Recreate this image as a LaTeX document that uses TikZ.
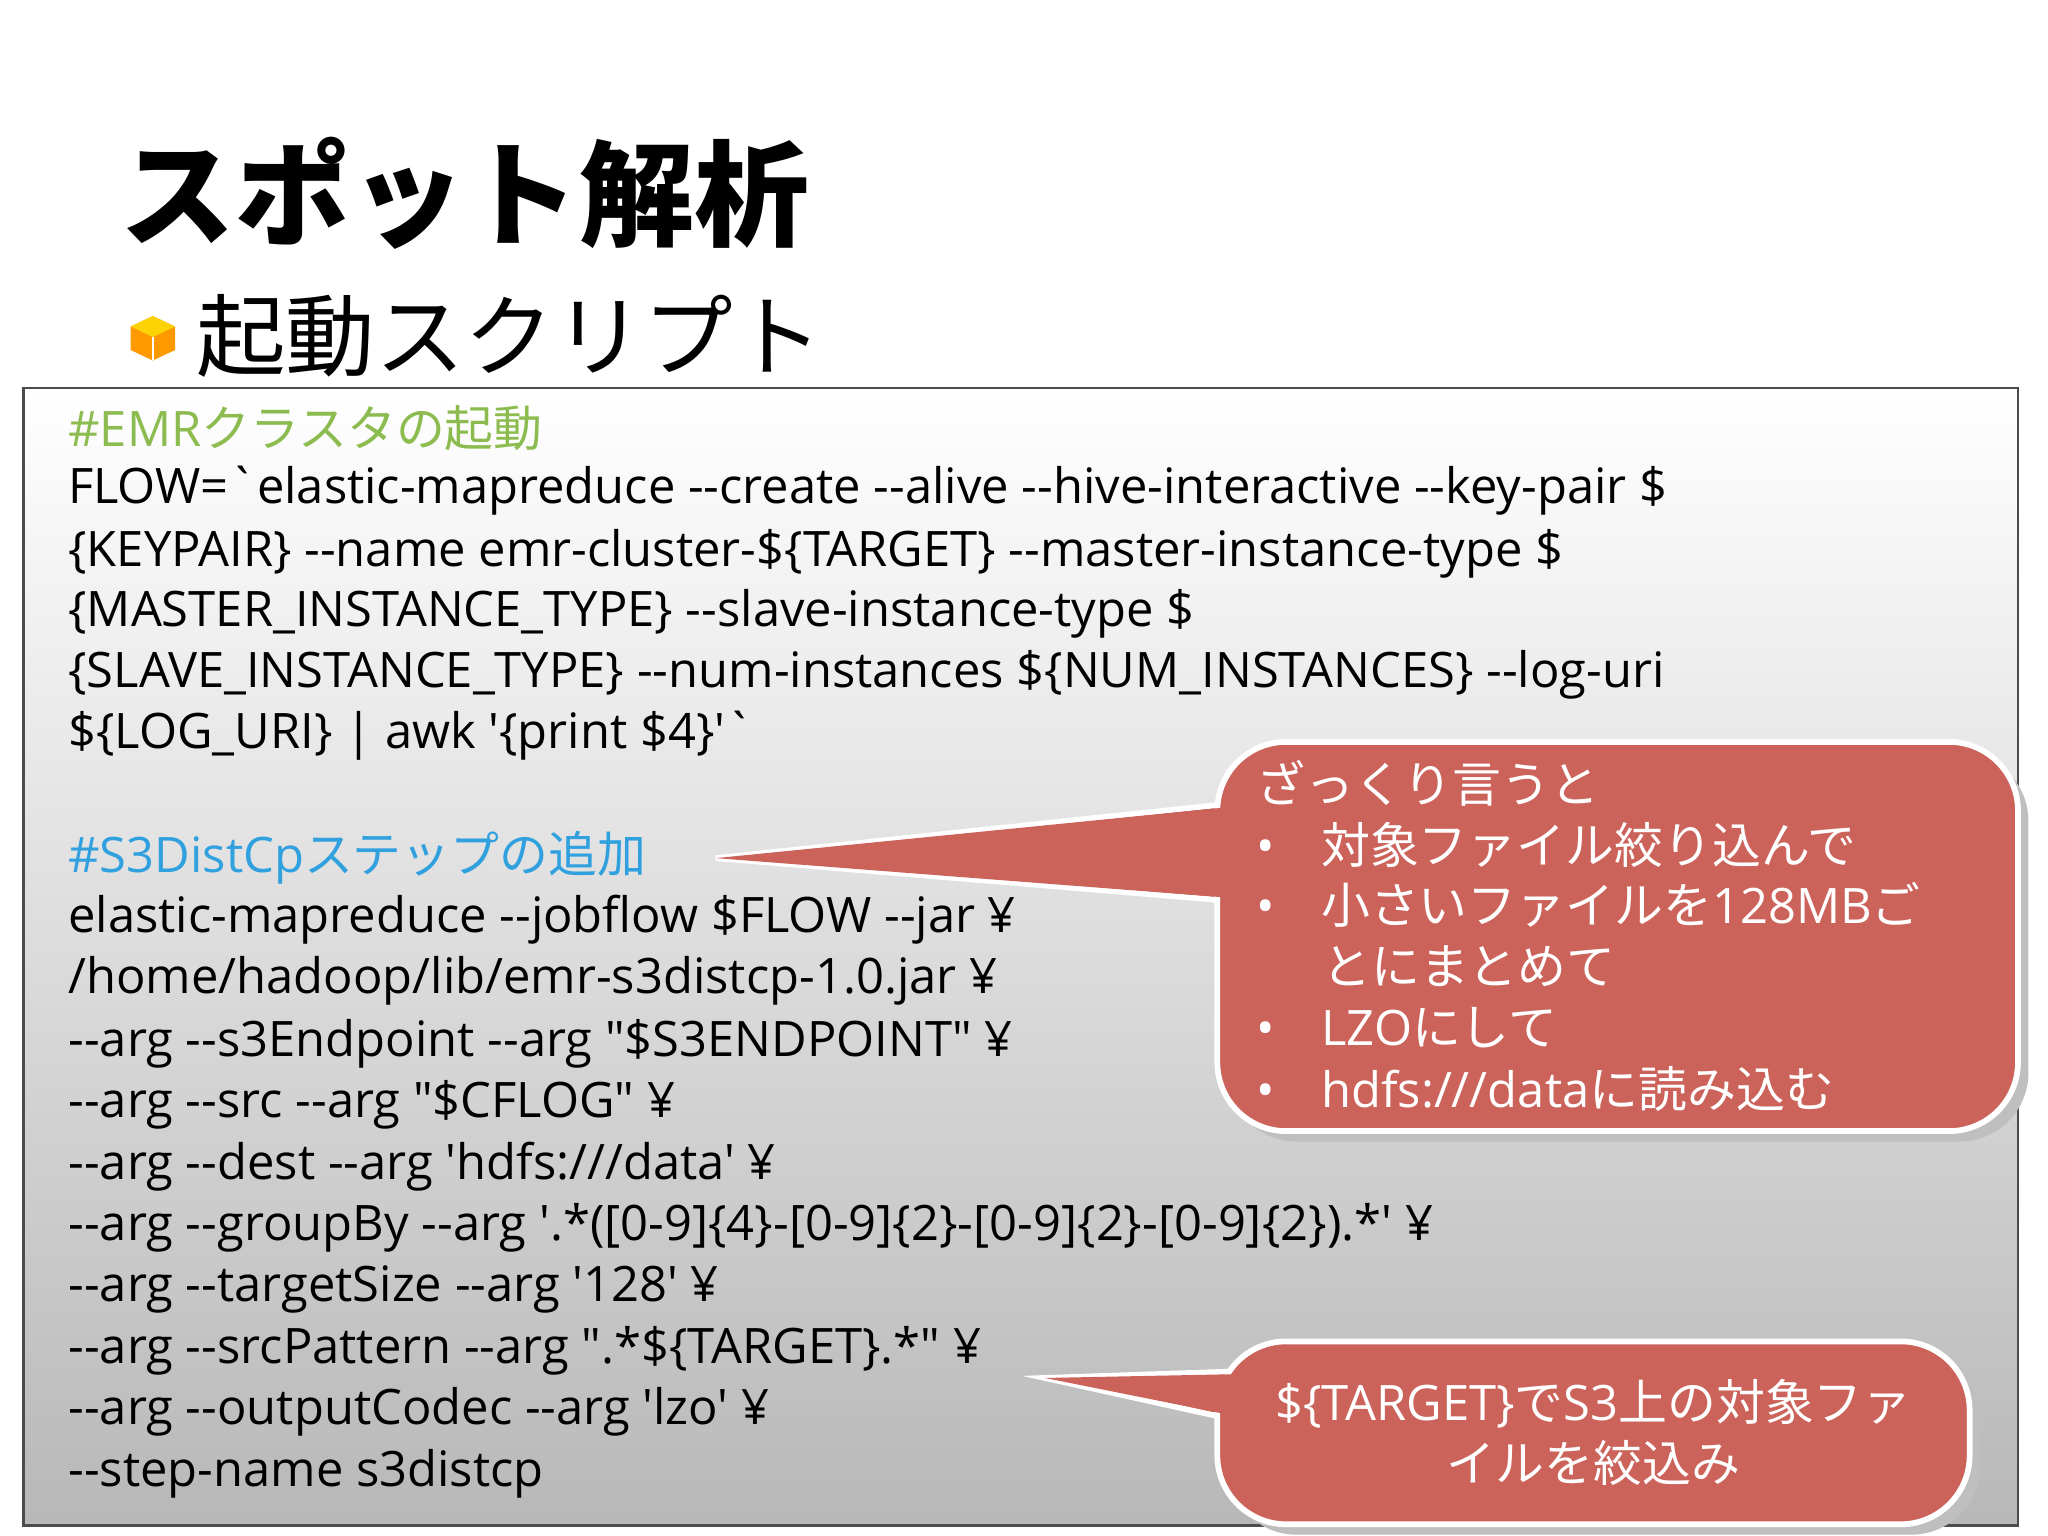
\documentclass[tikz,border=0pt]{standalone}
\usepackage{fontspec}
\newfontfamily\jp{Noto Sans CJK JP}
\newfontfamily\lat{Open Sans}
\definecolor{callred}{RGB}{204,99,91}
\definecolor{cgreen}{RGB}{140,188,80}
\definecolor{cblue}{RGB}{48,160,222}
\tikzset{code/.style={anchor=west,inner sep=0pt,font=\lat\fontsize{21.3}{25}\selectfont},
 ctext/.style={anchor=west,inner sep=0pt,text=white,font=\lat\fontsize{21.3}{25}\selectfont},
 callout/.style={fill=callred,draw=white,line width=2.5pt,rounded corners=30}}
\begin{document}
\begin{tikzpicture}[x=0.02cm,y=-0.02cm]
\useasboundingbox (0,0) rectangle (1568,1176);
\fill[white] (0,0) rectangle (1568,1176);
\node[anchor=west,inner sep=0pt,font=\jp\bfseries\fontsize{50}{54}\selectfont] (title) at (92,148) {スポット解析};
\fill[orange!80!yellow] (100,250) -- (117,242) -- (134,250) -- (134,268) -- (117,276) -- (100,268) -- cycle;
\fill[yellow!70!orange] (100,250) -- (117,242) -- (134,250) -- (117,258) -- cycle;
\draw[white,line width=1pt] (117,258) -- (117,276);
\node[anchor=west,inner sep=0pt,font=\jp\fontsize{39}{42}\selectfont] (sub) at (150,257) {起動スクリプト};
\shade[top color=white,bottom color=black!28,draw=black!70,line width=1pt] (18,297) rectangle (1545,1168);
\node[code,text=cgreen] (l0) at (52,328) {\#EMR{\jp クラスタの起動}};
\node[code] (l1) at (52,376) {FLOW=`elastic-mapreduce --create --alive --hive-interactive --key-pair \$};
\node[code] (l2) at (52,424) {\{KEYPAIR\} --name emr-cluster-\$\{TARGET\} --master-instance-type \$};
\node[code] (l3) at (52,470) {\{MASTER\_INSTANCE\_TYPE\} --slave-instance-type \$};
\node[code] (l4) at (52,517) {\{SLAVE\_INSTANCE\_TYPE\} --num-instances \$\{NUM\_INSTANCES\} --log-uri};
\node[code] (l5) at (52,563) {\$\{LOG\_URI\} | awk '\{print \$4\}'`};
\node[code,text=cblue] (c2) at (52,657) {\#S3DistCp{\jp ステップの追加}};
\node[code] (m1) at (52,704) {elastic-mapreduce --jobflow \$FLOW --jar ¥};
\node[code] (m2) at (52,751) {/home/hadoop/lib/emr-s3distcp-1.0.jar ¥};
\node[code] (m3) at (52,799) {--arg --s3Endpoint --arg "\$S3ENDPOINT" ¥};
\node[code] (m4) at (52,846) {--arg --src --arg "\$CFLOG" ¥};
\node[code] (m5) at (52,893) {--arg --dest --arg 'hdfs:///data' ¥};
\node[code] (m6) at (52,940) {--arg --groupBy --arg '.*([0-9]\{4\}-[0-9]\{2\}-[0-9]\{2\}-[0-9]\{2\}).*' ¥};
\node[code] (m7) at (52,987) {--arg --targetSize --arg '128' ¥};
\node[code] (m8) at (52,1034) {--arg --srcPattern --arg ".*\$\{TARGET\}.*" ¥};
\node[code] (m9) at (52,1081) {--arg --outputCodec --arg 'lzo' ¥};
\node[code] (m10) at (52,1128) {--step-name s3distcp};
% callout 1
\coordinate (p1) at (548,657);
\fill[black!25,rounded corners=30] (940,576) rectangle (1553,874);
\draw[fill=callred,draw=white,line width=2.5pt] (p1) -- (945,615) -- (945,690) -- cycle;
\draw[callout] (932,568) rectangle (1545,866);
\fill[callred] (p1) -- (950,617) -- (950,688) -- cycle;
\node[ctext] (a0) at (962,600) {\jp ざっくり言うと};
\node[ctext] (a1) at (962,647) {•\hspace{20pt}{\jp 対象ファイル絞り込んで}};
\node[ctext] (a2) at (962,693) {•\hspace{20pt}{\jp 小さいファイルを}128MB{\jp ご}};
\node[ctext] (a3) at (1012,740) {\jp とにまとめて};
\node[ctext] (a4) at (962,787) {•\hspace{20pt}LZO{\jp にして}};
\node[ctext] (a5) at (962,834) {•\hspace{20pt}hdfs:///data{\jp に読み込む}};
% callout 2
\coordinate (p2) at (800,1055);
\fill[black!25,rounded corners=30] (940,1035) rectangle (1516,1175);
\draw[fill=callred,draw=white,line width=2.5pt] (p2) -- (945,1050) -- (945,1087) -- cycle;
\draw[callout] (932,1027) rectangle (1508,1167);
\fill[callred] (p2) -- (950,1052) -- (950,1085) -- cycle;
\node[ctext,anchor=center] (b1) at (1220,1075) {\$\{TARGET\}{\jp で}S3{\jp 上の対象ファ}};
\node[ctext,anchor=center] (b2) at (1220,1120) {\jp イルを絞込み};
\end{tikzpicture}
\end{document}
